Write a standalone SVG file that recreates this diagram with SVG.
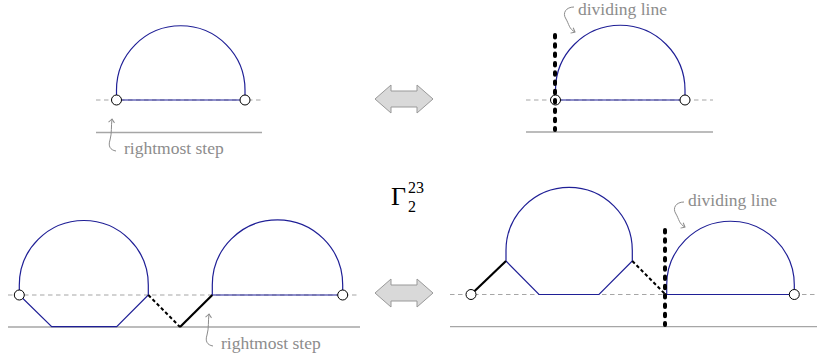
<svg xmlns="http://www.w3.org/2000/svg" width="817" height="355" viewBox="0 0 817 355" font-family="Liberation Serif">
<style>
.gd{stroke:#a6a6a6;stroke-width:1.2;stroke-dasharray:4.5 3.5;fill:none}
.gs{stroke:#a6a6a6;stroke-width:1.3;fill:none}
.bl{stroke:#1f1f96;stroke-width:1.2;fill:none}
.nd{fill:#fff;stroke:#000;stroke-width:1}
.div{stroke:#000;stroke-width:4;stroke-dasharray:2.5 6.8;stroke-linecap:round;fill:none}
.bd{stroke:#000;stroke-width:2;stroke-dasharray:3.5 2.5;fill:none}
.bs{stroke:#000;stroke-width:2.2;fill:none}
.cur{stroke:#8c8c8c;stroke-width:1;fill:none}
.lab{font-family:'Liberation Serif',serif;font-size:17.5px;fill:#8c8c8c}
.dbl{fill:#d9d9d9;stroke:#999;stroke-width:1}
.math{font-family:'Liberation Serif',serif;fill:#000}
</style>
<defs>
<marker id="ah" viewBox="-5 -4 7 8" markerWidth="7" markerHeight="8" refX="0" refY="0" orient="auto" markerUnits="userSpaceOnUse">
<path d="M-3.5,-3 Q-1,-0.8 0,0 Q-1,0.8 -3.5,3" stroke="#8c8c8c" stroke-width="1" fill="none"/>
</marker>
</defs>

<g id="panel-top-left">
<line class="gd" x1="96" y1="100" x2="262" y2="100"/>
<line class="gs" x1="96" y1="132.5" x2="262" y2="132.5"/>
<path class="bl" d="M116.5,100 V90 A64.25,64.25 0 0 1 245,90 V100 Z"/>
<circle class="nd" cx="116.5" cy="100" r="5"/>
<circle class="nd" cx="245" cy="100" r="5"/>
<path class="cur" marker-end="url(#ah)" d="M116,151 C110,150 108,146 110,140 C112,133 111,126 112,119"/>
<text class="lab" x="124" y="154">rightmost step</text>
</g>

<g id="panel-top-right">
<line class="gd" x1="526" y1="100" x2="713" y2="100"/>
<line class="gs" x1="526" y1="132" x2="713" y2="132"/>
<path class="bl" d="M555.5,100 V90 A64.75,64.75 0 0 1 685,90 V100 Z"/>
<circle class="nd" cx="555.5" cy="100" r="5"/>
<circle class="nd" cx="685" cy="100" r="5"/>
<line class="div" x1="555" y1="35" x2="555" y2="130"/>
<path class="cur" marker-end="url(#ah)" d="M574,7 C566,7 562,13 566,19 C569,24 569,29 575,32"/>
<text class="lab" x="578" y="14.5">dividing line</text>
</g>

<g id="arrow-top">
<polygon class="dbl" points="375,99 391,85 391,91 417,91 417,85 433,99 417,113 417,107 391,107 391,113"/>
</g>

<g id="label-gamma">
<text class="math" x="391" y="205" font-size="26">Γ</text>
<text class="math" x="408" y="193" font-size="16">23</text>
<text class="math" x="408" y="212" font-size="16">2</text>
</g>

<g id="arrow-bottom">
<polygon class="dbl" points="375,293 391,279 391,285 417,285 417,279 433,293 417,307 417,301 391,301 391,307"/>
</g>

<g id="panel-bottom-left">
<line class="gd" x1="8" y1="295" x2="360" y2="295"/>
<line class="gs" x1="8" y1="327" x2="360" y2="327"/>
<path class="bl" d="M19.3,295 V285 A64.5,64.5 0 0 1 148.3,285 V295 L116.7,326.7 H51.7 Z"/>
<path class="bl" d="M212.3,295 V285 A65.2,65.2 0 0 1 342.7,285 V295 Z"/>
<line class="bd" x1="148.3" y1="295" x2="180" y2="327"/>
<line class="bs" x1="180" y1="327" x2="212.3" y2="295"/>
<circle class="nd" cx="19.3" cy="295" r="5"/>
<circle class="nd" cx="342.7" cy="295" r="5"/>
<path class="cur" marker-end="url(#ah)" d="M213,346 C207,345 205,341 207,335 C209,328 208,321 209,314"/>
<text class="lab" x="221" y="349">rightmost step</text>
</g>

<g id="panel-bottom-right">
<line class="gd" x1="450" y1="294.5" x2="817" y2="294.5"/>
<line class="gs" x1="450" y1="326.7" x2="817" y2="326.7"/>
<path class="bl" d="M506,261 V250.5 A63.15,63.15 0 0 1 632.3,250.5 V261 L599,294.5 H539 Z"/>
<path class="bl" d="M666.7,294.5 V285 A63.8,63.8 0 0 1 794.3,285 V294.5 Z"/>
<line class="bs" x1="471" y1="294.5" x2="506" y2="261"/>
<line class="bd" x1="632.3" y1="261" x2="665" y2="294"/>
<circle class="nd" cx="471" cy="294.5" r="5"/>
<circle class="nd" cx="794.3" cy="294.5" r="5"/>
<line class="div" x1="665" y1="230" x2="665" y2="325"/>
<path class="cur" marker-end="url(#ah)" d="M684,202 C676,202 672,208 676,214 C679,219 679,224 685,227"/>
<text class="lab" x="688" y="206">dividing line</text>
</g>
</svg>
